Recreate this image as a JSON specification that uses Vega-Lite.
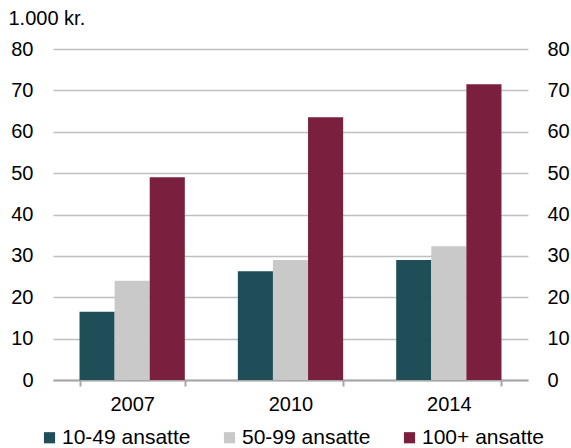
{
  "$schema": "https://vega.github.io/schema/vega-lite/v6.json",
  "width": 475,
  "height": 331,
  "autosize": {"type": "none"},
  "padding": {"left": 53, "top": 49, "right": 43, "bottom": 68},
  "background": "white",
  "data": {
    "values": [
      {"year": "2007", "group": "10-49 ansatte", "value": 16.5},
      {"year": "2007", "group": "50-99 ansatte", "value": 24.0},
      {"year": "2007", "group": "100+ ansatte", "value": 49.0},
      {"year": "2010", "group": "10-49 ansatte", "value": 26.3},
      {"year": "2010", "group": "50-99 ansatte", "value": 29.0},
      {"year": "2010", "group": "100+ ansatte", "value": 63.5},
      {"year": "2014", "group": "10-49 ansatte", "value": 29.0},
      {"year": "2014", "group": "50-99 ansatte", "value": 32.3},
      {"year": "2014", "group": "100+ ansatte", "value": 71.5}
    ]
  },
  "encoding": {
    "x": {
      "field": "year",
      "type": "nominal",
      "title": null,
      "scale": {"paddingInner": 0.335, "paddingOuter": 0.1675},
      "axis": {
        "labelAngle": 0,
        "labelFontSize": 20,
        "labelPadding": 8,
        "domainColor": "#a6a6a6",
        "domainWidth": 2,
        "tickColor": "#a6a6a6",
        "tickWidth": 2,
        "tickSize": 6,
        "tickBand": "extent",
        "grid": false
      }
    },
    "xOffset": {
      "field": "group",
      "type": "nominal",
      "sort": ["10-49 ansatte", "50-99 ansatte", "100+ ansatte"],
      "scale": {"paddingInner": 0, "paddingOuter": 0}
    },
    "color": {
      "field": "group",
      "type": "nominal",
      "sort": ["10-49 ansatte", "50-99 ansatte", "100+ ansatte"],
      "scale": {
        "domain": ["10-49 ansatte", "50-99 ansatte", "100+ ansatte"],
        "range": ["#1f4e58", "#c9c9c9", "#7a1f3d"]
      },
      "legend": {
        "title": null,
        "orient": "none",
        "direction": "horizontal",
        "legendX": -14,
        "legendY": 378,
        "symbolType": "square",
        "symbolSize": 125,
        "symbolStrokeWidth": 0,
        "symbolOpacity": 1,
        "labelFontSize": 21,
        "labelOffset": 2,
        "columnPadding": 28,
        "labelLimit": 300
      }
    }
  },
  "layer": [
    {
      "mark": {"type": "bar"},
      "encoding": {
        "y": {
          "field": "value",
          "type": "quantitative",
          "scale": {"domain": [0, 80]},
          "axis": {
            "title": "1.000 kr.",
            "titleAngle": 0,
            "titleAlign": "left",
            "titleBaseline": "middle",
            "titleX": -45,
            "titleY": -31,
            "titleFontSize": 20,
            "titleFontWeight": "normal",
            "values": [0, 10, 20, 30, 40, 50, 60, 70, 80],
            "labelFontSize": 20,
            "labelPadding": 20,
            "domain": false,
            "ticks": false,
            "gridColor": "#bfbfbf",
            "gridWidth": 1.5
          }
        }
      }
    },
    {
      "mark": {"type": "bar", "opacity": 0},
      "encoding": {
        "y": {
          "field": "value",
          "type": "quantitative",
          "scale": {"domain": [0, 80]},
          "axis": {
            "orient": "right",
            "title": null,
            "values": [0, 10, 20, 30, 40, 50, 60, 70, 80],
            "labelFontSize": 20,
            "labelPadding": 19,
            "domain": false,
            "ticks": false,
            "grid": false
          }
        }
      }
    }
  ],
  "resolve": {"scale": {"y": "independent"}},
  "config": {
    "font": "Liberation Sans",
    "view": {"stroke": null},
    "axis": {"labelColor": "#000000", "titleColor": "#000000"},
    "legend": {"labelColor": "#000000"}
  }
}
